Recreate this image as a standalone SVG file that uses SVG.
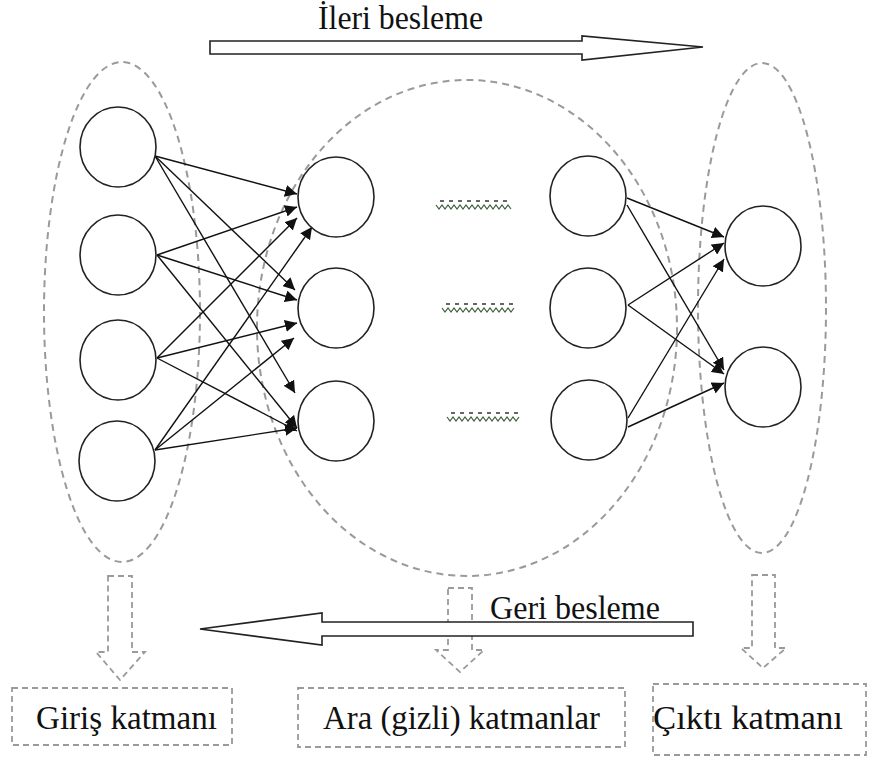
<svg xmlns="http://www.w3.org/2000/svg" width="869" height="758" viewBox="0 0 869 758">
<defs>
<style>
.grp{fill:none;stroke:#9a9a9a;stroke-width:2;stroke-dasharray:7,5}
.neu{fill:#fff;stroke:#222;stroke-width:1.6}
.con{stroke:#111;stroke-width:1.4;fill:none;marker-end:url(#ah)}
.blk{fill:#fff;stroke:#222;stroke-width:1.6}
.dblk{fill:none;stroke:#9a9a9a;stroke-width:1.8;stroke-dasharray:6,4}
.lbl{font-family:"Liberation Serif","Times New Roman",serif;font-size:33px;fill:#111}
.wav{fill:none;stroke:#3b5e3b;stroke-width:1.2}
.wd{stroke:#333;stroke-width:1.4;stroke-dasharray:4,5}
</style>
<marker id="ah" viewBox="0 0 10 10" refX="10" refY="5" markerWidth="12" markerHeight="12" markerUnits="userSpaceOnUse" orient="auto">
<path d="M0,0 L10,5 L0,10 z" fill="#111"/>
</marker>
</defs>
<rect width="869" height="758" fill="#fff"/>

<g id="groups">
<ellipse class="grp" cx="122" cy="312" rx="78" ry="250"/>
<ellipse class="grp" cx="467" cy="328" rx="210" ry="248"/>
<ellipse class="grp" cx="762" cy="308" rx="64" ry="245"/>
</g>

<g id="forward-arrow">
<path class="blk" d="M210,41 L582,41 L582,36 L703,47 L582,60 L582,54 L210,54 Z"/>
<text class="lbl" x="318" y="29" textLength="165" lengthAdjust="spacingAndGlyphs">İleri besleme</text>
</g>

<g id="down-arrows">
<path class="dblk" d="M108,576 L132,576 L132,652 L145,652 L120,680 L96,652 L108,652 Z"/>
<path class="dblk" d="M448,588 L472,588 L472,650 L484,650 L460,672 L436,650 L448,650 Z"/>
<path class="dblk" d="M752,575 L775,575 L775,648 L786,648 L763,668 L741,648 L752,648 Z"/>
</g>

<g id="back-arrow">
<path class="blk" d="M693,622 L322,622 L322,613 L200,629 L322,645 L322,636 L693,636 Z"/>
<text class="lbl" x="490" y="619" textLength="170" lengthAdjust="spacingAndGlyphs">Geri besleme</text>
</g>

<g id="connectors">
<line class="con" x1="155" y1="156" x2="297" y2="194"/>
<line class="con" x1="155" y1="156" x2="295" y2="290"/>
<line class="con" x1="155" y1="156" x2="295" y2="393"/>
<line class="con" x1="157" y1="255" x2="297" y2="207"/>
<line class="con" x1="157" y1="255" x2="297" y2="300"/>
<line class="con" x1="157" y1="255" x2="297" y2="428"/>
<line class="con" x1="157" y1="358" x2="297" y2="218"/>
<line class="con" x1="157" y1="358" x2="297" y2="323"/>
<line class="con" x1="157" y1="358" x2="297" y2="431"/>
<line class="con" x1="155" y1="450" x2="312" y2="227"/>
<line class="con" x1="155" y1="450" x2="294" y2="338"/>
<line class="con" x1="155" y1="450" x2="297" y2="428"/>
<line class="con" x1="627" y1="198" x2="724" y2="237"/>
<line class="con" x1="627" y1="205" x2="724" y2="370"/>
<line class="con" x1="628" y1="305" x2="724" y2="243"/>
<line class="con" x1="628" y1="305" x2="724" y2="374"/>
<line class="con" x1="628" y1="418" x2="724" y2="259"/>
<line class="con" x1="628" y1="427" x2="724" y2="383"/>
</g>

<g id="input-layer">
<ellipse id="in1" class="neu" cx="118" cy="147" rx="38" ry="40"/>
<ellipse id="in2" class="neu" cx="118" cy="255" rx="38" ry="40"/>
<ellipse id="in3" class="neu" cx="118" cy="360" rx="38" ry="40"/>
<ellipse id="in4" class="neu" cx="117" cy="461" rx="38" ry="40"/>
</g>
<g id="hidden-layer-1">
<ellipse id="h11" class="neu" cx="336" cy="197" rx="38" ry="40"/>
<ellipse id="h12" class="neu" cx="336" cy="308" rx="38" ry="40"/>
<ellipse id="h13" class="neu" cx="336" cy="421" rx="38" ry="40"/>
</g>
<g id="hidden-layer-n">
<ellipse id="h21" class="neu" cx="588" cy="196" rx="38" ry="40"/>
<ellipse id="h22" class="neu" cx="588" cy="308" rx="38" ry="40"/>
<ellipse id="h23" class="neu" cx="589" cy="420" rx="38" ry="40"/>
</g>
<g id="output-layer">
<ellipse id="o1" class="neu" cx="763" cy="246" rx="38" ry="40"/>
<ellipse id="o2" class="neu" cx="763" cy="387" rx="38" ry="40"/>
</g>

<g id="ellipsis">
<polyline class="wav" points="436,205 439,209 442,205 445,209 448,205 451,209 454,205 457,209 460,205 463,209 466,205 469,209 472,205 475,209 478,205 481,209 484,205 487,209 490,205 493,209 496,205 499,209 502,205 505,209 508,205 511,209"/>
<line class="wd" x1="440" y1="201" x2="510" y2="201"/>
<polyline class="wav" points="442,308 445,312 448,308 451,312 454,308 457,312 460,308 463,312 466,308 469,312 472,308 475,312 478,308 481,312 484,308 487,312 490,308 493,312 496,308 499,312 502,308 505,312 508,308 511,312 514,308"/>
<line class="wd" x1="446" y1="304" x2="514" y2="304"/>
<polyline class="wav" points="447,417 450,421 453,417 456,421 459,417 462,421 465,417 468,421 471,417 474,421 477,417 480,421 483,417 486,421 489,417 492,421 495,417 498,421 501,417 504,421 507,417 510,421 513,417 516,421 519,417"/>
<line class="wd" x1="451" y1="413" x2="519" y2="413"/>
</g>

<g id="label-boxes">
<g id="box-input">
<rect class="dblk" x="12" y="688" width="220" height="57"/>
<text class="lbl" x="36" y="729" textLength="181" lengthAdjust="spacingAndGlyphs">Giriş katmanı</text>
</g>
<g id="box-hidden">
<rect class="dblk" x="298" y="688" width="327" height="59"/>
<text class="lbl" x="323" y="729" textLength="277" lengthAdjust="spacingAndGlyphs">Ara (gizli) katmanlar</text>
</g>
<g id="box-output">
<rect class="dblk" x="653" y="684" width="213" height="71"/>
<text class="lbl" x="653" y="729" textLength="190" lengthAdjust="spacingAndGlyphs">Çıktı katmanı</text>
</g>
</g>
</svg>
